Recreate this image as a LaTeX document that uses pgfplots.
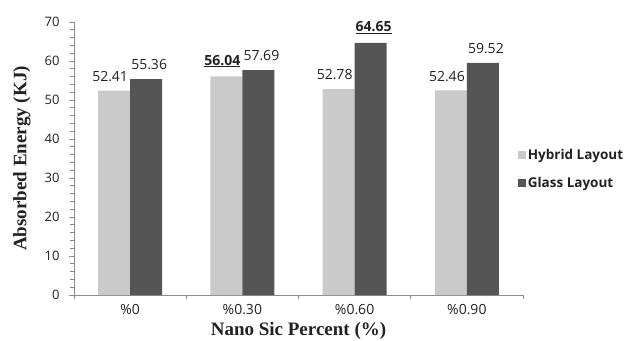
\documentclass[border=0pt]{standalone}
\usepackage{pgfplots}
\pgfplotsset{compat=1.18}
\usepackage{fontspec}
\setmainfont{Open Sans}
\newfontfamily\titlefont{Liberation Serif}

\definecolor{hybrid}{HTML}{CACACA}
\definecolor{glass}{HTML}{555555}
\definecolor{axisgray}{HTML}{8C8C8C}
\definecolor{txt}{HTML}{222222}

\newcommand{\barlabel}[1]{\pgfmathprintnumber[fixed,precision=2,fixed zerofill]{#1}}

\begin{document}
\begin{tikzpicture}[x=1pt,y=1pt]
\useasboundingbox (0,0) rectangle (629,340);
\begin{axis}[
  at={(74pt,45pt)}, anchor=south west,
  scale only axis, width=449pt, height=273pt,
  xmin=-0.5, xmax=3.5, ymin=0, ymax=70,
  axis x line=bottom, axis y line=left,
  axis line style={-, axisgray, line width=0.8pt},
  ybar=0pt, bar width=32pt,
  xtick={0,1,2,3},
  xticklabels={\%0,\%0.30,\%0.60,\%0.90},
  minor xtick={-0.5,0.5,1.5,2.5,3.5},
  major x tick style={draw=none},
  ytick={0,10,...,70},
  minor y tick num=4,
  tick align=outside,
  major tick length=5pt, minor tick length=4pt,
  tick style={axisgray, line width=0.7pt},
  /pgf/number format/assume math mode=true,
  tick label style={font=\fontsize{13}{15}\selectfont, text=txt},
  yticklabel style={xshift=-6pt},
  xticklabel style={font=\fontsize{14}{16}\selectfont, yshift=-1pt},
  xlabel={Nano Sic Percent (\%)},
  ylabel={Absorbed Energy (KJ)},
  label style={font=\titlefont\bfseries\fontsize{19}{21}\selectfont, text=txt},
  x label style={at={(axis description cs:0.5,0)}, anchor=center, yshift=-36pt},
  y label style={at={(axis description cs:-0.116,0.5)}, anchor=center},
  nodes near coords,
  every node near coord/.append style={font=\fontsize{14}{16}\selectfont, text=txt, inner sep=2pt, yshift=7pt},
  visualization depends on={value \coordindex \as \idx},
  legend style={at={(0.988,0.462)}, anchor=west, draw=none, fill=none,
    font=\bfseries\fontsize{13.5}{15}\selectfont, text=txt,
    row sep=12pt, inner sep=0pt,
    /tikz/every even column/.append style={column sep=0pt}},
  legend cell align=left,
  legend image code/.code={\fill[#1, draw=none] (0pt,-4pt) rectangle (8pt,4pt);},
  every legend entry/.append style={xshift=4pt},
]
% Hybrid layout
\addplot[fill=hybrid, draw=none,
  every node near coord/.append style={xshift=-4pt},
  nodes near coords={\ifnum\idx=1 \underline{\textbf{\barlabel{\pgfplotspointmeta}}}\else\barlabel{\pgfplotspointmeta}\fi}]
  coordinates {(0,52.41) (1,56.04) (2,52.78) (3,52.46)};
% Glass layout
\addplot[fill=glass, draw=none,
  every node near coord/.append style={xshift=3pt},
  nodes near coords={\ifnum\idx=2 \underline{\textbf{\barlabel{\pgfplotspointmeta}}}\else\barlabel{\pgfplotspointmeta}\fi}]
  coordinates {(0,55.36) (1,57.69) (2,64.65) (3,59.52)};
\legend{Hybrid Layout, Glass Layout}
\end{axis}
\end{tikzpicture}
\end{document}
